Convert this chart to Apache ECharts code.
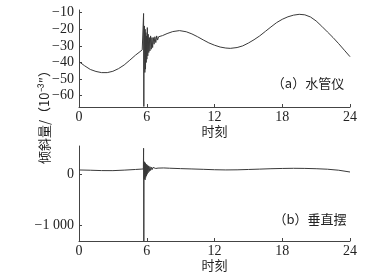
<!DOCTYPE html>
<html>
<head>
<meta charset="utf-8">
<script src="https://cdn.jsdelivr.net/npm/echarts@6/dist/echarts.min.js"></script>
<style>
  html, body { margin: 0; padding: 0; background: #fff; }
  #main { width: 381px; height: 276px; }
</style>
</head>
<body>
<div id="main"></div>
<script>
// (a) 水管仪
const hoursA = [0, 0.5, 1, 1.5, 2, 2.5, 3, 3.5, 4, 4.5, 5, 5.4, 5.6,
  5.7, 5.72, 5.74, 5.76,
  5.8, 5.83, 5.86, 5.89, 5.92, 5.95, 5.98, 6.01, 6.05, 6.09, 6.13, 6.18, 6.23, 6.28,
  6.34, 6.4, 6.46, 6.52, 6.58, 6.65, 6.72, 6.8, 6.88, 6.96, 7.05, 7.15,
  7.4, 7.8, 8.3, 8.9, 9.5, 10, 10.5, 11, 11.5, 12, 12.5, 13, 13.4, 14, 14.5, 15,
  15.5, 16, 16.5, 17, 17.5, 18, 18.5, 19, 19.5, 20, 20.5, 21, 21.5, 22, 22.5, 23, 23.5, 24];
const tiltA = [-39.5, -42, -44.2, -45.4, -46.1, -46.1, -45.3, -43.7, -41.5, -38.6, -35.6, -33.5, -32.4,
  -32, -10.5, -66.5, -30,
  -18, -46, -20, -44, -22, -40, -24, -38, -19, -36, -23, -34, -25, -33,
  -24, -32, -25, -31, -25, -29, -24.5, -28, -24, -26.5, -24.5, -25,
  -23.8, -22.6, -21.4, -20.8, -21.5, -22.8, -24.5, -26.4, -28.2, -29.6, -30.7, -31.3, -31.5, -31, -30, -28.3,
  -26.3, -24, -21.3, -18.6, -16, -14, -12.5, -11.5, -11, -11.3, -12.6, -15, -18.2, -21.6, -25, -28.7, -32.6, -36.5];

// (b) 垂直摆
const hoursB = [0, 1, 2, 3, 4, 5, 5.5, 5.7, 5.72, 5.74, 5.76,
  5.79, 5.82, 5.85, 5.88, 5.91, 5.94, 5.97, 6.0, 6.04, 6.08, 6.12, 6.17, 6.22, 6.28,
  6.34, 6.4, 6.47, 6.55, 6.63, 6.72, 6.8, 6.9, 7.0,
  7.5, 8, 9, 10, 11, 12, 13, 14, 15, 16, 17, 18, 19, 20, 21, 22, 23, 24];
const tiltB = [85, 80, 73, 72, 82, 95, 102, 105, 513, -1316, 250,
  -90, 240, -110, 220, -60, 200, -30, 190, 0, 175, 30, 165, 55, 150,
  75, 140, 90, 135, 100, 130, 115, 128, 122,
  125, 120, 112, 105, 98, 90, 86, 88, 95, 102, 110, 115, 118, 116, 110, 100, 80, 45];

const xTicks = [0, 6, 12, 18, 24];

const pairs = (xs, ys) => xs.map((x, i) => [x, ys[i]]);
const fmtNum = (v) => {
  const s = String(Math.abs(v)).replace(/\B(?=(\d{3})+(?!\d))/g, ' ');
  return v < 0 ? '\u2212' + s : s;
};

const axisColor = '#444';
const serif = '"Liberation Serif", "DejaVu Serif", serif';
const cjk = '"Noto Sans CJK SC", sans-serif';

const xAxisBase = {
  type: 'value',
  min: 0,
  max: 24,
  interval: 6,
  name: '时刻',
  nameLocation: 'middle',
  nameGap: 18,
  nameTextStyle: { fontFamily: cjk, fontSize: 13, color: '#222' },
  axisLine: { onZero: false, lineStyle: { color: axisColor, width: 1 } },
  axisTick: { inside: true, length: 3, lineStyle: { color: axisColor } },
  axisLabel: { fontFamily: serif, fontSize: 14, color: '#222', margin: 3,
    formatter: (v) => (xTicks.includes(v) ? String(v) : '') },
  splitLine: { show: false },
};

const yAxisBase = {
  type: 'value',
  axisLine: { show: true, onZero: false, lineStyle: { color: axisColor, width: 1 } },
  axisTick: { show: true, inside: true, length: 3, lineStyle: { color: axisColor } },
  axisLabel: { fontFamily: serif, fontSize: 14, color: '#222', margin: 5, showMinLabel: false, showMaxLabel: false },
  splitLine: { show: false },
};

const chart = echarts.init(document.getElementById('main'));
chart.setOption({
  animation: false,
  backgroundColor: '#fff',
  grid: [
    { left: 79, top: 10, width: 271, height: 97 },
    { left: 79, top: 146, width: 271, height: 95 },
  ],
  xAxis: [
    Object.assign({}, xAxisBase, { gridIndex: 0 }),
    Object.assign({}, xAxisBase, { gridIndex: 1 }),
  ],
  yAxis: [
    Object.assign({}, yAxisBase, {
      gridIndex: 0, min: -66.8, max: -8.4, minInterval: 10, maxInterval: 10,
      axisLabel: Object.assign({}, yAxisBase.axisLabel, {
        formatter: (v) => (v % 10 === 0 ? fmtNum(v) : ''),
      }),
    }),
    Object.assign({}, yAxisBase, {
      gridIndex: 1, min: -1316, max: 558, minInterval: 1000, maxInterval: 1000,
      axisLabel: Object.assign({}, yAxisBase.axisLabel, {
        formatter: (v) => (v % 1000 === 0 ? fmtNum(v) : ''),
      }),
    }),
  ],
  series: [
    {
      type: 'line',
      xAxisIndex: 0,
      yAxisIndex: 0,
      data: pairs(hoursA, tiltA),
      showSymbol: false,
      lineStyle: { color: '#3a3a3a', width: 1 },
    },
    {
      type: 'line',
      xAxisIndex: 1,
      yAxisIndex: 1,
      data: pairs(hoursB, tiltB),
      showSymbol: false,
      lineStyle: { color: '#3a3a3a', width: 1 },
    },
  ],
  graphic: [
    {
      type: 'text',
      x: 44,
      y: 114,
      rotation: Math.PI / 2,
      style: {
        text: '倾斜量/（10⁻³″）',
        font: '13px ' + cjk,
        fill: '#222',
        align: 'center',
        verticalAlign: 'middle',
      },
    },
    {
      type: 'text',
      x: 308,
      y: 83,
      style: { text: '（a）水管仪', font: '13px ' + cjk, fill: '#222', align: 'center', verticalAlign: 'middle' },
    },
    {
      type: 'text',
      x: 310,
      y: 219,
      style: { text: '（b）垂直摆', font: '13px ' + cjk, fill: '#222', align: 'center', verticalAlign: 'middle' },
    },
  ],
});
</script>
</body>
</html>
